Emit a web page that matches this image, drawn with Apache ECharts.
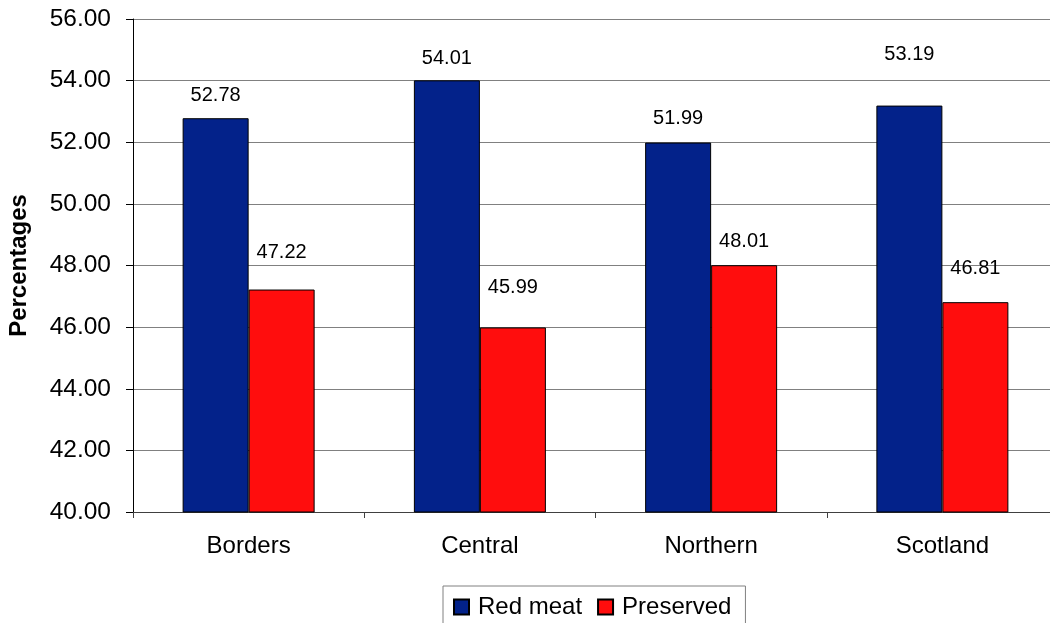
<!DOCTYPE html>
<html>
<head>
<meta charset="utf-8">
<script src="https://cdn.jsdelivr.net/npm/echarts@6/dist/echarts.min.js"></script>
<style>
  html, body { margin: 0; padding: 0; background: #ffffff; }
  #chart { width: 1050px; height: 623px; }
</style>
</head>
<body>
<div id="chart"></div>
<script>
// Share of meat consumption by region
const regions = ['Borders', 'Central', 'Northern', 'Scotland'];
const redMeat = [52.78, 54.01, 51.99, 53.19];
const preserved = [47.22, 45.99, 48.01, 46.81];
const seriesNames = ['Red meat', 'Preserved'];
const yTicks = { min: 40, max: 56, step: 2 };

// How far each value label sits above its bar (pixels, to label centre)
const redMeatLabelLift = [23, 22, 24, 51];
const preservedLabelLift = [37, 40, 24, 34];

const FONT = '"Liberation Sans", Arial, Helvetica, sans-serif';
const BLUE = '#03228a';
const RED = '#ff0d0d';

function withLabels(values, lifts) {
  return values.map((v, i) => ({
    value: v,
    label: { distance: lifts[i] - 10 }
  }));
}

const chart = echarts.init(document.getElementById('chart'), null, { renderer: 'canvas' });

const barLabel = {
  show: true,
  position: 'top',
  color: '#000',
  fontFamily: FONT,
  fontSize: 20,
  formatter: p => p.value.toFixed(2)
};

chart.setOption({
  animation: false,
  backgroundColor: '#ffffff',
  // plot area runs slightly past the right edge of the canvas
  grid: {
    left: 133, width: 925, top: 19, bottom: 111,
    containLabel: false, outerBoundsMode: 'none'
  },
  legend: {
    data: seriesNames,
    left: 443,
    top: 586,
    orient: 'horizontal',
    padding: [9, 14, 9, 10],
    itemWidth: 15,
    itemHeight: 15,
    itemGap: 15,
    borderColor: '#808080',
    borderWidth: 1,
    icon: 'rect',
    textStyle: { fontFamily: FONT, fontSize: 24, color: '#000', padding: [0, 0, 0, 4] }
  },
  xAxis: {
    type: 'category',
    data: regions,
    boundaryGap: true,
    axisLine: { show: true, lineStyle: { color: '#404040', width: 1 } },
    axisTick: { show: true, length: 6, inside: false, lineStyle: { color: '#404040' } },
    axisLabel: { fontFamily: FONT, fontSize: 24, color: '#000', margin: 22 },
    splitLine: { show: false }
  },
  yAxis: {
    type: 'value',
    min: yTicks.min,
    max: yTicks.max,
    interval: yTicks.step,
    name: 'Percentages',
    nameLocation: 'middle',
    nameGap: 102,
    nameRotate: 90,
    nameTextStyle: { fontFamily: FONT, fontSize: 24, fontWeight: 'bold', color: '#000' },
    axisLine: { show: true, lineStyle: { color: '#000', width: 1 } },
    axisTick: { show: true, length: 7, lineStyle: { color: '#000' } },
    axisLabel: {
      fontFamily: FONT, fontSize: 24.5, color: '#000', margin: 22,
      formatter: v => v.toFixed(2)
    },
    splitLine: { show: true, lineStyle: { color: '#808080', width: 1 } }
  },
  series: [
    {
      name: seriesNames[0],
      type: 'bar',
      data: withLabels(redMeat, redMeatLabelLift),
      barWidth: 66,
      barGap: '0%',
      itemStyle: { color: BLUE, borderColor: '#000', borderWidth: 1 },
      label: barLabel
    },
    {
      name: seriesNames[1],
      type: 'bar',
      data: withLabels(preserved, preservedLabelLift),
      barWidth: 66,
      barGap: '0%',
      itemStyle: { color: RED, borderColor: '#000', borderWidth: 1 },
      label: barLabel
    }
  ]
});
</script>
</body>
</html>
